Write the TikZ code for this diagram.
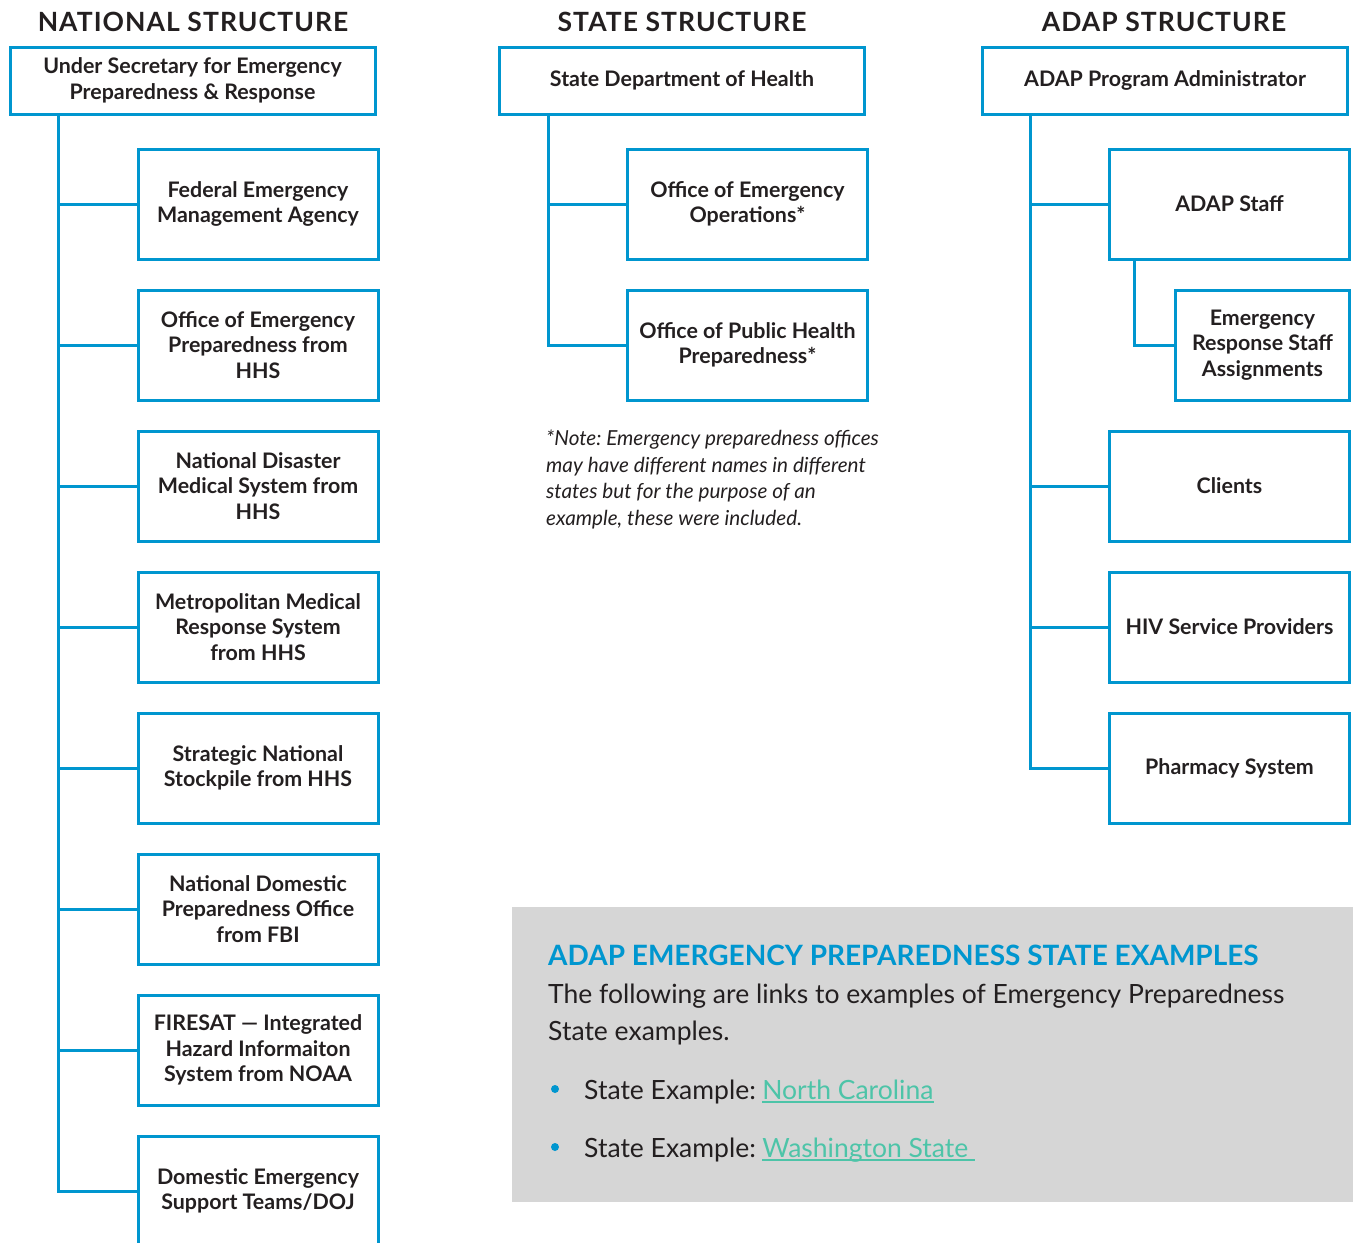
\documentclass[tikz,border=0pt]{standalone}
\usepackage{fontspec}
\setmainfont{Lato}
\newfontfamily\headfont[LetterSpace=4]{Lato}
\usetikzlibrary{positioning}
\definecolor{boxblue}{RGB}{0,150,207}
\definecolor{inkgrey}{RGB}{35,31,32}
\definecolor{panelgrey}{RGB}{214,214,214}
\definecolor{linkteal}{RGB}{77,196,168}
\frenchspacing
\tikzstyle{topbox}=[draw=boxblue,line width=3pt,minimum width=365pt,minimum height=67pt,align=center,text=inkgrey,font=\fontsize{21.4}{25.5}\selectfont\bfseries]
\tikzstyle{subbox}=[topbox,minimum width=240pt,minimum height=110pt]
\tikzstyle{head}=[text=inkgrey,font=\fontsize{26.5}{30}\selectfont\headfont\bfseries]
\tikzstyle{tie}=[draw=boxblue,line width=3pt]
\tikzstyle{note}=[text=inkgrey,align=left,inner sep=0pt,font=\fontsize{20.7}{26.5}\selectfont\itshape]
\tikzstyle{body}=[text=inkgrey,align=left,inner sep=0pt,font=\fontsize{26.5}{37}\selectfont]
\tikzstyle{weblink}=[body,text=linkteal]
\tikzstyle{dot}=[circle,fill=boxblue,inner sep=0pt,minimum size=8pt]

\begin{document}
\begin{tikzpicture}[x=1pt,y=-1pt]
\useasboundingbox (0,0) rectangle (1353,1243);
\clip (0,0) rectangle (1353,1243);
% headings
\node[head] (H1) at (193,22) {NATIONAL STRUCTURE};
\node[head] (H2) at (682,22) {STATE STRUCTURE};
\node[head] (H3) at (1164,22) {ADAP STRUCTURE};
% national structure
\node[topbox] (N0) at (192.5,80.5) {Under Secretary for Emergency\\Preparedness \& Response};
\node[subbox] (N1) at (258,204) {Federal Emergency\\Management Agency};
\node[subbox] (N2) at (258,345) {Office of Emergency\\Preparedness from\\HHS};
\node[subbox] (N3) at (258,486) {National Disaster\\Medical System from\\HHS};
\node[subbox] (N4) at (258,627) {Metropolitan Medical\\Response System\\from HHS};
\node[subbox] (N5) at (258,768) {Strategic National\\Stockpile from HHS};
\node[subbox] (N6) at (258,909) {National Domestic\\Preparedness Office\\from FBI};
\node[subbox] (N7) at (258,1050) {FIRESAT --- Integrated\\Hazard Informaiton\\System from NOAA};
\node[subbox] (N8) at (258,1191) {Domestic Emergency\\Support Teams/DOJ};
\coordinate (Nt) at (58,0);
\foreach \c in {N1,N2,N3,N4,N5,N6,N7,N8}
  \draw[tie] (N0.south -| Nt) |- (\c.west);
% state structure
\node[topbox] (S0) at (682,80.5) {State Department of Health};
\node[subbox] (S1) at (747.5,204) {Office of Emergency\\Operations*};
\node[subbox] (S2) at (747.5,345) {Office of Public Health\\Preparedness*};
\coordinate (St) at (548,0);
\foreach \c in {S1,S2}
  \draw[tie] (S0.south -| St) |- (\c.west);
\node[note,anchor=north west] (S3) at (546,430) {*Note: Emergency preparedness offices\\may have different names in different\\states but for the purpose of an\\example, these were included.};
% adap structure
\node[topbox] (A0) at (1165,80.5) {ADAP Program Administrator};
\node[subbox] (A1) at (1229.5,204) {ADAP Staff};
\node[subbox,minimum width=174pt] (A2) at (1262.5,345) {Emergency\\Response Staff\\Assignments};
\node[subbox] (A3) at (1229.5,486) {Clients};
\node[subbox] (A4) at (1229.5,627) {HIV Service Providers};
\node[subbox] (A5) at (1229.5,768) {Pharmacy System};
\coordinate (At) at (1030,0);
\coordinate (Bt) at (1134,0);
\foreach \c in {A1,A3,A4,A5}
  \draw[tie] (A0.south -| At) |- (\c.west);
\draw[tie] (A1.south -| Bt) |- (A2.west);
% examples panel
\node[fill=panelgrey,anchor=north west,inner sep=0pt,minimum width=841pt,minimum height=295pt] (G) at (512,907) {};
\node[anchor=base west,inner sep=0pt,text=boxblue,font=\fontsize{28}{32}\selectfont\bfseries] (G1) at (548,965) {ADAP EMERGENCY PREPAREDNESS STATE EXAMPLES};
\node[body,anchor=base west] (G2) at (548,1040) {The following are links to examples of Emergency Preparedness\\State examples.};
\node[dot] (B1) at (555,1089) {};
\node[dot] (B2) at (555,1147) {};
\node[body,anchor=base west] (G3) at (584,1099) {State Example:};
\node[body,anchor=base west] (G4) at (584,1157) {State Example:};
\node[weblink,anchor=base west,xshift=6pt] (L1) at (G3.base east) {North Carolina};
\node[weblink,anchor=base west,xshift=6pt] (L2) at (G4.base east) {Washington State};
\draw[linkteal,line width=1.5pt] ([yshift=-3pt]L1.base west) -- ([yshift=-3pt]L1.base east);
\draw[linkteal,line width=1.5pt] ([yshift=-3pt]L2.base west) -- ([yshift=-3pt,xshift=6pt]L2.base east);
\end{tikzpicture}
\end{document}
